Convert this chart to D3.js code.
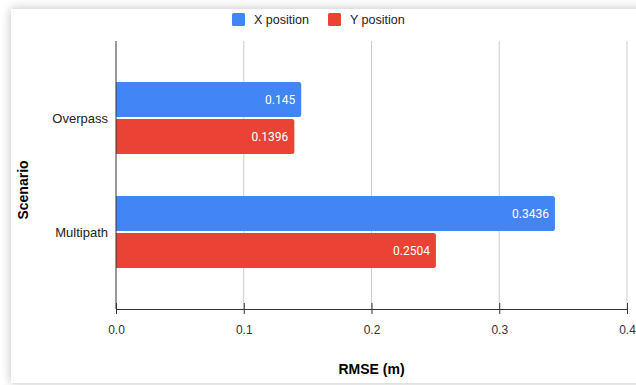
<!DOCTYPE html>
<html>
<head>
<meta charset="utf-8">
<script src="https://cdn.jsdelivr.net/npm/d3@7"></script>
<style>
  html, body { margin: 0; padding: 0; background: #fff; width: 636px; height: 385px; overflow: hidden; }
  .card { position: absolute; left: 11px; top: 9px; width: 640px; height: 374px; background: #fff;
          box-shadow: 0 0 10px rgba(0,0,0,0.25); }
  svg { position: absolute; left: 0; top: 0; }
  text { font-family: "Liberation Sans", Arial, sans-serif; }
</style>
</head>
<body>
<div class="card"></div>
<svg id="chart" width="636" height="385"></svg>
<script>
// Scenarios and RMSE per position axis
const categories = ["Overpass", "Multipath"];
const seriesNames = ["X position", "Y position"];
const xValues = [0.145, 0.3436];
const yValues = [0.1396, 0.2504];
const xTicks = [0, 0.1, 0.2, 0.3, 0.4];
const colors = ["#4285F4", "#EA4335"];

const rows = categories.map((c, i) => ({ cat: c, vals: [xValues[i], yValues[i]] }));

const svg = d3.select("#chart");
const plot = { left: 116, right: 627, top: 41, bottom: 309 };

const x = d3.scaleLinear().domain([0, 0.4]).range([plot.left, plot.right]);
const y = d3.scaleBand().domain(categories).range([61, 289]).paddingInner(0.37).paddingOuter(0.185);
const ySub = d3.scaleBand().domain(seriesNames).range([0, y.bandwidth()]).paddingInner(0.06);

// vertical gridlines
svg.append("g").selectAll("line").data(xTicks.slice(1)).join("line")
  .attr("x1", d => x(d)).attr("x2", d => x(d))
  .attr("y1", plot.top).attr("y2", plot.bottom)
  .attr("stroke", "#cccccc").attr("stroke-width", 1);

// bars with slightly rounded ends
function barPath(x0, x1, y0, h, r) {
  r = Math.min(r, (x1 - x0) / 2);
  return `M${x0},${y0}H${x1 - r}Q${x1},${y0} ${x1},${y0 + r}V${y0 + h - r}Q${x1},${y0 + h} ${x1 - r},${y0 + h}H${x0}Z`;
}

const groups = svg.append("g").selectAll("g").data(rows).join("g")
  .attr("transform", d => `translate(0,${y(d.cat)})`);

groups.selectAll("path").data(d => d.vals.map((v, i) => ({ v, i }))).join("path")
  .attr("d", d => barPath(x(0), x(d.v), ySub(seriesNames[d.i]), ySub.bandwidth(), 2.5))
  .attr("fill", d => colors[d.i]);

groups.selectAll("text").data(d => d.vals.map((v, i) => ({ v, i }))).join("text")
  .attr("x", d => x(d.v) - 6)
  .attr("y", d => ySub(seriesNames[d.i]) + ySub.bandwidth() / 2)
  .attr("dy", "0.35em")
  .attr("text-anchor", "end")
  .attr("fill", "#fff")
  .style("font-family", "Roboto, sans-serif")
  .style("font-size", "12px")
  .text(d => String(d.v));

// category labels
svg.append("g").selectAll("text").data(categories).join("text")
  .attr("x", 108)
  .attr("y", d => y(d) + y.bandwidth() / 2)
  .attr("dy", "0.35em")
  .attr("text-anchor", "end")
  .attr("fill", "#222")
  .style("font-size", "13px")
  .text(d => d);

// baseline at zero
svg.append("line")
  .attr("x1", x(0)).attr("x2", x(0)).attr("y1", plot.top).attr("y2", plot.bottom)
  .attr("stroke", "#333").attr("stroke-width", 1);

// bottom axis
const axis = d3.axisBottom(x).tickValues(xTicks).tickFormat(d3.format(".1f")).tickSize(5).tickSizeOuter(0);
const ax = svg.append("g").attr("transform", `translate(0,${plot.bottom})`).call(axis);
ax.select(".domain").attr("stroke", "#333");
ax.selectAll(".tick line").attr("stroke", "#333").attr("y1", -6).attr("y2", 5);
ax.selectAll(".tick text").attr("y", 16).attr("fill", "#333")
  .style("font-family", "'Liberation Sans', Arial, sans-serif").style("font-size", "12px");

// axis titles
svg.append("text").attr("x", (plot.left + plot.right) / 2).attr("y", 374)
  .attr("text-anchor", "middle").style("font-size", "14px").style("font-weight", "bold")
  .attr("fill", "#000").text("RMSE (m)");

svg.append("text").attr("transform", "translate(28,190) rotate(-90)")
  .attr("text-anchor", "middle").style("font-size", "14px").style("font-weight", "bold")
  .attr("fill", "#000").text("Scenario");

// legend
const legendX = [232, 328];
const lg = svg.append("g").selectAll("g").data(seriesNames).join("g")
  .attr("transform", (d, i) => `translate(${legendX[i]},13)`);
lg.append("rect").attr("width", 13).attr("height", 13).attr("rx", 1.5)
  .attr("fill", (d, i) => colors[i]);
lg.append("text").attr("x", 22).attr("y", 6.5).attr("dy", "0.35em")
  .attr("fill", "#222").style("font-size", "12.5px").text(d => d);
</script>
</body>
</html>
